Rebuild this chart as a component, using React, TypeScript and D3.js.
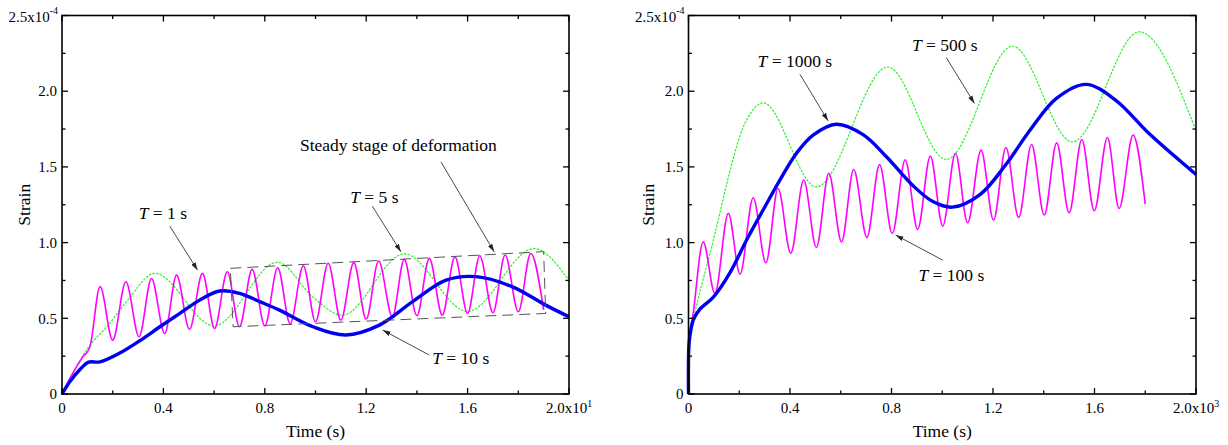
import React from "react";
import * as d3 from "d3";

type P = [number, number];

// ---------- Left panel data (time in 10^1 s, strain in 10^-4) ----------
const leftT1: P[] = [
  [0, 0], [0.04, 0.13], [0.08, 0.24], [0.11, 0.31], [0.15, 0.71], [0.2, 0.356], [0.252, 0.741],
  [0.304, 0.378], [0.353, 0.763], [0.405, 0.4], [0.452, 0.785], [0.503, 0.427], [0.554, 0.797],
  [0.602, 0.433], [0.652, 0.807], [0.7, 0.444], [0.75, 0.823], [0.8, 0.449], [0.851, 0.834],
  [0.9, 0.464], [0.952, 0.847], [1.0, 0.477], [1.05, 0.864], [1.1, 0.488], [1.151, 0.868],
  [1.2, 0.495], [1.249, 0.878], [1.303, 0.51], [1.35, 0.889], [1.4, 0.517], [1.449, 0.896],
  [1.5, 0.521], [1.55, 0.906], [1.6, 0.532], [1.648, 0.913], [1.7, 0.537], [1.748, 0.918],
  [1.8, 0.543], [1.849, 0.928], [1.9, 0.555],
];
const leftT5: P[] = [
  [0, 0], [0.05, 0.16], [0.1, 0.3], [0.18, 0.45], [0.255, 0.61], [0.366, 0.797], [0.6, 0.45],
  [0.85, 0.87], [0.99, 0.64], [1.105, 0.52], [1.35, 0.925], [1.6, 0.545], [1.862, 0.96], [2.0, 0.75],
];
const leftT10: P[] = [
  [0, 0], [0.03, 0.08], [0.07, 0.16], [0.105, 0.21], [0.15, 0.212], [0.228, 0.27], [0.307, 0.352],
  [0.386, 0.444], [0.465, 0.533], [0.543, 0.62], [0.622, 0.68], [0.7, 0.665], [0.78, 0.61], [0.858, 0.554],
  [0.99, 0.444], [1.12, 0.39], [1.252, 0.455], [1.383, 0.61], [1.515, 0.752], [1.633, 0.775],
  [1.777, 0.708], [1.908, 0.587], [2.0, 0.51],
];
const steadyBox: P[] = [[0.664, 0.83], [1.9, 0.94], [1.908, 0.532], [0.675, 0.444]];

// ---------- Right panel data (time in 10^3 s, strain in 10^-4) ----------
const rightT100: P[] = [
  [0, 0], [0.002, 0.3], [0.02, 0.55], [0.058, 1.005], [0.104, 0.665], [0.157, 1.193], [0.203, 0.792],
  [0.255, 1.296], [0.305, 0.867], [0.353, 1.357], [0.403, 0.929], [0.454, 1.413], [0.504, 0.968],
  [0.553, 1.457], [0.603, 1.005], [0.651, 1.483], [0.703, 1.034], [0.753, 1.515], [0.803, 1.061],
  [0.854, 1.547], [0.903, 1.087], [0.953, 1.571], [1.002, 1.109], [1.052, 1.589], [1.1, 1.131],
  [1.153, 1.611], [1.202, 1.148], [1.251, 1.628], [1.301, 1.166], [1.352, 1.648], [1.402, 1.182],
  [1.451, 1.659], [1.5, 1.197], [1.55, 1.681], [1.599, 1.21], [1.651, 1.694], [1.697, 1.226],
  [1.752, 1.71], [1.8, 1.254],
];
const rightT500: P[] = [
  [0, 0], [0.002, 0.35], [0.019, 0.49], [0.085, 0.93], [0.229, 1.81], [0.294, 1.923], [0.504, 1.368],
  [0.785, 2.16], [1.016, 1.549], [1.277, 2.297], [1.513, 1.665], [1.776, 2.392], [1.995, 1.76],
];
const rightT1000: P[] = [
  [0, 0], [0.002, 0.33], [0.01, 0.43], [0.019, 0.49], [0.045, 0.56], [0.098, 0.64], [0.163, 0.8],
  [0.229, 1.017], [0.294, 1.215], [0.36, 1.413], [0.425, 1.589], [0.491, 1.71], [0.583, 1.782],
  [0.688, 1.713], [0.78, 1.567], [0.884, 1.377], [0.963, 1.271], [1.04, 1.234], [1.15, 1.319],
  [1.25, 1.514], [1.35, 1.752], [1.45, 1.952], [1.566, 2.045], [1.684, 1.94], [1.815, 1.72], [2.0, 1.45],
];

// ---------- Axes ----------
const xMajor = [0, 0.4, 0.8, 1.2, 1.6, 2.0];
const xMinor = [0.2, 0.6, 1.0, 1.4, 1.8];
const xTickLabels = ["0", "0.4", "0.8", "1.2", "1.6", "2.0"];
const yMajor = [0, 0.5, 1.0, 1.5, 2.0, 2.5];
const yMinor = [0.25, 0.75, 1.25, 1.75, 2.25];
const yTickLabels = ["0", "0.5", "1.0", "1.5", "2.0", "2.5"];

type Ann = { italic: string; text: string; c: P; from: P; to: P };
const leftAnns: Ann[] = [
  { italic: "T", text: " = 1 s", c: [0.398, 1.195], from: [0.425, 1.109], to: [0.535, 0.818] },
  { italic: "T", text: " = 5 s", c: [1.232, 1.302], from: [1.224, 1.241], to: [1.337, 0.939] },
  { italic: "", text: "Steady stage of deformation", c: [1.327, 1.644], from: [1.495, 1.533], to: [1.705, 0.939] },
  { italic: "T", text: " = 10 s", c: [1.573, 0.236], from: [1.449, 0.257], to: [1.265, 0.422] },
];
const rightAnns: Ann[] = [
  { italic: "T", text: " = 1000 s", c: [0.419, 2.198], from: [0.439, 2.112], to: [0.55, 1.804] },
  { italic: "T", text: " = 500 s", c: [1.01, 2.304], from: [1.016, 2.222], to: [1.127, 1.919] },
  { italic: "T", text: " = 100 s", c: [1.036, 0.785], from: [1.002, 0.884], to: [0.816, 1.05] },
];

const FONT = '"Liberation Serif","Times New Roman",Times,serif';

type PanelProps = {
  x0: number;
  x1: number;
  xExp: string;
  green: P[];
  magenta: P[];
  blue: P[];
  anns: Ann[];
  box?: P[];
  strainX: number;
};

function Panel({ x0, x1, xExp, green, magenta, blue, anns, box, strainX }: PanelProps) {
  const xs = d3.scaleLinear().domain([0, 2]).range([x0, x1]);
  const ys = d3.scaleLinear().domain([0, 2.5]).range([394, 15.5]);
  const osc = d3
    .line<P>()
    .x((d) => xs(d[0]))
    .y((d) => ys(d[1]))
    .curve(d3.curveMonotoneX);
  const smooth = d3
    .line<P>()
    .x((d) => xs(d[0]))
    .y((d) => ys(d[1]))
    .curve(d3.curveCatmullRom.alpha(0.5));
  const top = ys(2.5);
  const bottom = ys(0);
  const majorLen = 6;
  const minorLen = 3.5;
  return (
    <g>
      {/* curves */}
      <path d={osc(green) || ""} fill="none" stroke="#2ef02e" strokeWidth={1.2} strokeDasharray="2.5 1.2" />
      <path d={osc(magenta) || ""} fill="none" stroke="#ff00ff" strokeWidth={1.6} />
      <path d={smooth(blue) || ""} fill="none" stroke="#0000f0" strokeWidth={3.4} strokeLinejoin="round" />
      {box && (
        <path
          d={(d3.line<P>().x((d) => xs(d[0])).y((d) => ys(d[1])).curve(d3.curveLinearClosed)(box)) || ""}
          fill="none"
          stroke="#555"
          strokeWidth={1}
          strokeDasharray="11 6"
        />
      )}
      {/* frame */}
      <rect x={x0} y={top} width={x1 - x0} height={bottom - top} fill="none" stroke="#000" strokeWidth={1.6} />
      {/* x ticks */}
      {xMajor.map((v) => (
        <g key={"xM" + v}>
          <line x1={xs(v)} x2={xs(v)} y1={bottom} y2={bottom - majorLen} stroke="#000" strokeWidth={1.3} />
          <line x1={xs(v)} x2={xs(v)} y1={top} y2={top + majorLen} stroke="#000" strokeWidth={1.3} />
        </g>
      ))}
      {xMinor.map((v) => (
        <g key={"xm" + v}>
          <line x1={xs(v)} x2={xs(v)} y1={bottom} y2={bottom - minorLen} stroke="#000" strokeWidth={1.3} />
          <line x1={xs(v)} x2={xs(v)} y1={top} y2={top + minorLen} stroke="#000" strokeWidth={1.3} />
        </g>
      ))}
      {yMajor.map((v) => (
        <g key={"yM" + v}>
          <line x1={x0} x2={x0 + majorLen} y1={ys(v)} y2={ys(v)} stroke="#000" strokeWidth={1.3} />
          <line x1={x1} x2={x1 - majorLen} y1={ys(v)} y2={ys(v)} stroke="#000" strokeWidth={1.3} />
        </g>
      ))}
      {yMinor.map((v) => (
        <g key={"ym" + v}>
          <line x1={x0} x2={x0 + minorLen} y1={ys(v)} y2={ys(v)} stroke="#000" strokeWidth={1.3} />
          <line x1={x1} x2={x1 - minorLen} y1={ys(v)} y2={ys(v)} stroke="#000" strokeWidth={1.3} />
        </g>
      ))}
      {/* tick labels */}
      {xMajor.map((v, i) => (
        <text key={"xl" + v} x={xs(v)} y={413} textAnchor="middle" fontSize={15} fontFamily={FONT} fill="#000">
          {xTickLabels[i]}
          {i === xMajor.length - 1 && (
            <>
              x10
              <tspan dy={-6} fontSize={10}>
                {xExp}
              </tspan>
            </>
          )}
        </text>
      ))}
      {yMajor.map((v, i) => (
        <text
          key={"yl" + v}
          x={x0 - (i === yMajor.length - 1 ? 4 : 5)}
          y={ys(v) + (i === yMajor.length - 1 ? 6.5 : 5.2)}
          textAnchor="end"
          fontSize={15}
          fontFamily={FONT}
          fill="#000"
        >
          {yTickLabels[i]}
          {i === yMajor.length - 1 && (
            <>
              x10
              <tspan dy={-8} fontSize={10}>
                -4
              </tspan>
            </>
          )}
        </text>
      ))}
      {/* axis titles */}
      <text x={(x0 + x1) / 2} y={436.5} textAnchor="middle" fontSize={17.5} fontFamily={FONT} fill="#000">
        Time (s)
      </text>
      <text
        transform={`translate(${strainX},${(top + bottom) / 2}) rotate(-90)`}
        textAnchor="middle"
        fontSize={17.5}
        fontFamily={FONT}
        fill="#000"
      >
        Strain
      </text>
      {/* annotations */}
      {anns.map((a, i) => (
        <g key={"a" + i}>
          <line
            x1={xs(a.from[0])}
            y1={ys(a.from[1])}
            x2={xs(a.to[0])}
            y2={ys(a.to[1])}
            stroke="#333"
            strokeWidth={0.9}
            markerEnd="url(#arrowHead)"
          />
          <text x={xs(a.c[0])} y={ys(a.c[1]) + 6} textAnchor="middle" fontSize={17.5} fontFamily={FONT} fill="#000">
            {a.italic && <tspan fontStyle="italic">{a.italic}</tspan>}
            {a.text}
          </text>
        </g>
      ))}
    </g>
  );
}

export default function App() {
  return (
    <svg
      width={1228}
      height={445}
      viewBox="0 0 1228 445"
      style={{ position: "absolute", left: 0, top: 0, background: "#fff" }}
    >
      <defs>
        <marker id="arrowHead" viewBox="0 0 10 6" refX={10} refY={3} markerWidth={8} markerHeight={5} orient="auto" markerUnits="userSpaceOnUse">
          <path d="M0,0 L10,3 L0,6 Z" fill="#222" />
        </marker>
      </defs>
      <rect x={0} y={0} width={1228} height={445} fill="#fff" />
      <Panel x0={62} x1={569} xExp="1" green={leftT5} magenta={leftT1} blue={leftT10} anns={leftAnns} box={steadyBox} strainX={30} />
      <Panel x0={688.5} x1={1196} xExp="3" green={rightT500} magenta={rightT100} blue={rightT1000} anns={rightAnns} strainX={653.5} />
    </svg>
  );
}
